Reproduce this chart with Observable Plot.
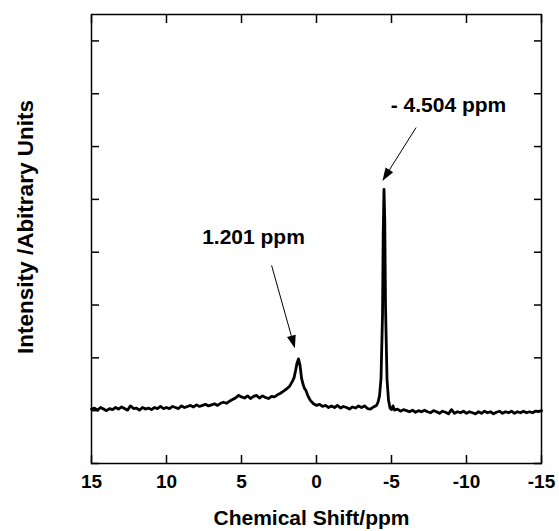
<!DOCTYPE html>
<html>
<head>
<meta charset="utf-8">
<script src="https://cdn.jsdelivr.net/npm/d3@7"></script>
<script src="https://cdn.jsdelivr.net/npm/@observablehq/plot@0.6"></script>
<style>
  body { margin: 0; background: #fff; }
  #chart { width: 559px; height: 531px; }
</style>
</head>
<body>
<div id="chart"></div>
<script>
// ---- data ----
const ppm = [
  15.0, 14.8, 14.6, 14.4, 14.2, 14.0, 13.8, 13.6, 13.4, 13.2, 13.0, 12.8, 12.6, 12.4, 12.2, 12.0,
  11.8, 11.6, 11.4, 11.2, 11.0, 10.8, 10.6, 10.4, 10.2, 10.0, 9.8, 9.6, 9.4, 9.2, 9.0, 8.8,
  8.6, 8.4, 8.2, 8.0, 7.8, 7.6, 7.4, 7.2, 7.0, 6.8, 6.6, 6.4, 6.2, 6.0, 5.8, 5.6,
  5.4, 5.2, 5.0, 4.8, 4.6, 4.4, 4.2, 4.0, 3.8, 3.6, 3.4, 3.2, 3.0, 2.8, 2.6, 2.4,
  2.2, 2.0, 1.8, 1.6, 1.5, 1.4, 1.3, 1.2, 1.1, 1.0, 0.9, 0.8, 0.7, 0.6, 0.5, 0.4,
  0.2, 0.0, -0.2, -0.4, -0.6, -0.8, -1.0, -1.2, -1.4, -1.6, -1.8, -2.0, -2.2, -2.4, -2.6, -2.8,
  -3.0, -3.2, -3.4, -3.6, -3.8, -4.0, -4.1, -4.2, -4.3, -4.4, -4.45, -4.5, -4.55, -4.6, -4.7, -4.8,
  -4.9, -5.0, -5.1, -5.2, -5.4, -5.6, -5.8, -6.0, -6.2, -6.4, -6.6, -6.8, -7.0, -7.2, -7.4, -7.6,
  -7.8, -8.0, -8.2, -8.4, -8.6, -8.8, -9.0, -9.2, -9.4, -9.6, -9.8, -10.0, -10.2, -10.4, -10.6, -10.8,
  -11.0, -11.2, -11.4, -11.6, -11.8, -12.0, -12.2, -12.4, -12.6, -12.8, -13.0, -13.2, -13.4, -13.6, -13.8, -14.0,
  -14.2, -14.4, -14.6, -14.8, -15.0
];
const intensity = [
  1.03, 1.05, 1.01, 1.06, 1.03, 1.00, 1.04, 1.02, 1.06, 1.03, 1.07, 1.04, 1.01, 1.09, 1.04, 1.05,
  1.01, 1.06, 1.03, 1.05, 1.02, 1.06, 1.04, 1.08, 1.04, 1.06, 1.04, 1.08, 1.06, 1.04, 1.09, 1.06,
  1.08, 1.10, 1.07, 1.11, 1.08, 1.10, 1.12, 1.09, 1.11, 1.13, 1.10, 1.14, 1.16, 1.14, 1.18, 1.21,
  1.24, 1.29, 1.26, 1.24, 1.28, 1.23, 1.27, 1.29, 1.24, 1.28, 1.25, 1.23, 1.27, 1.26, 1.30, 1.33,
  1.37, 1.41, 1.46, 1.56, 1.62, 1.75, 1.90, 1.98, 1.86, 1.62, 1.50, 1.42, 1.38, 1.30, 1.24, 1.19,
  1.13, 1.10, 1.12, 1.08, 1.10, 1.06, 1.09, 1.06, 1.10, 1.05, 1.08, 1.06, 1.03, 1.07, 1.05, 1.09,
  1.06, 1.09, 1.04, 1.03, 1.07, 1.10, 1.16, 1.28, 1.60, 2.80, 4.40, 5.19, 4.60, 3.00, 1.60, 1.20,
  1.05, 1.02, 1.09, 1.01, 1.03, 0.99, 1.02, 1.00, 0.98, 1.01, 0.97, 1.00, 0.98, 1.01, 0.98, 0.96,
  1.00, 0.98, 0.95, 0.99, 0.97, 0.94, 1.02, 0.95, 0.98, 0.96, 0.99, 0.95, 0.98, 0.96, 0.94, 0.98,
  0.95, 0.99, 0.96, 0.98, 0.94, 0.97, 0.99, 0.95, 0.98, 0.96, 0.99, 0.95, 0.98, 0.96, 0.99, 0.96,
  0.98, 0.96, 0.99, 0.98, 1.00
];
const xTicks = [15, 10, 5, 0, -5, -10, -15];
const yTicks = [0, 1, 2, 3, 4, 5, 6, 7, 8];

const annotLabels = ["1.201 ppm", "- 4.504 ppm"];
const annotX = [4.2, -8.8];
const annotY = [4.28, 6.79];
const arrowX1 = [2.96, -6.67];
const arrowY1 = [3.74, 6.35];
const arrowX2 = [1.41, -4.43];
const arrowY2 = [2.17, 5.34];

const xTitle = "Chemical Shift/ppm";
const yTitle = "Intensity /Abitrary Units";

// ---- build tables ----
const spectrum = ppm.map((p, i) => ({ppm: p, v: intensity[i]}));
const annots = annotLabels.map((t, i) => ({t, x: annotX[i], y: annotY[i]}));
const arrows = arrowX1.map((x1, i) => ({x1, y1: arrowY1[i], x2: arrowX2[i], y2: arrowY2[i]}));

const FONT = "'Liberation Sans', Arial, Helvetica, sans-serif";

// custom arrow mark with filled triangular head, positioned via Plot scales
function filledArrows(data) {
  return (index, scales) => {
    const ns = "http://www.w3.org/2000/svg";
    const g = document.createElementNS(ns, "g");
    const headLen = 13, headHalf = 4.5;
    for (const a of data) {
      const x1 = scales.x(a.x1), y1 = scales.y(a.y1);
      const x2 = scales.x(a.x2), y2 = scales.y(a.y2);
      const dx = x2 - x1, dy = y2 - y1, L = Math.hypot(dx, dy);
      const ux = dx / L, uy = dy / L;
      const bx = x2 - ux * headLen, by = y2 - uy * headLen;
      const line = document.createElementNS(ns, "line");
      line.setAttribute("x1", x1); line.setAttribute("y1", y1);
      line.setAttribute("x2", bx); line.setAttribute("y2", by);
      line.setAttribute("stroke", "black"); line.setAttribute("stroke-width", "1");
      g.appendChild(line);
      const poly = document.createElementNS(ns, "polygon");
      const px = -uy, py = ux;
      poly.setAttribute("points",
        `${x2},${y2} ${bx + px * headHalf},${by + py * headHalf} ${bx - px * headHalf},${by - py * headHalf}`);
      poly.setAttribute("fill", "black");
      g.appendChild(poly);
    }
    return g;
  };
}

const chart = Plot.plot({
  width: 559,
  height: 531,
  marginLeft: 91,
  marginRight: 18,
  marginTop: 14,
  marginBottom: 68,
  style: {fontFamily: FONT, background: "white", color: "black"},
  x: {domain: [15, -15]},
  y: {domain: [0, 8.5]},
  marks: [
    Plot.axisX({anchor: "bottom", ticks: xTicks, tickSize: 0, tickPadding: 11, label: null,
      fontSize: 19, fontWeight: "bold", tickFormat: d => String(d)}),
    Plot.axisX({anchor: "bottom", ticks: xTicks, tickSize: -8, strokeWidth: 1.5, fill: "none", label: null}),
    Plot.axisX({anchor: "top", ticks: xTicks, tickSize: -8, strokeWidth: 1.5, fill: "none", label: null}),
    Plot.axisY({anchor: "left", ticks: yTicks, tickSize: -8, strokeWidth: 1.5, fill: "none", label: null}),
    Plot.axisY({anchor: "right", ticks: yTicks, tickSize: -8, strokeWidth: 1.5, fill: "none", label: null}),
    Plot.frame({stroke: "black", strokeWidth: 1.5}),
    Plot.line(spectrum, {x: "ppm", y: "v", stroke: "black", strokeWidth: 2.8, strokeLinejoin: "round"}),
    Plot.text(annots, {x: "x", y: "y", text: "t", fontSize: 21, fontWeight: "bold", fill: "black"}),
    filledArrows(arrows),
    Plot.text([xTitle], {frameAnchor: "bottom", lineAnchor: "middle", dx: -5, dy: 55,
      fontSize: 21, fontWeight: "bold", fill: "black"}),
    Plot.text([yTitle], {frameAnchor: "left", textAnchor: "middle", lineAnchor: "middle", rotate: -90,
      dx: -66, dy: -12, fontSize: 22.5, fontWeight: "bold", fill: "black"})
  ]
});
document.getElementById("chart").appendChild(chart);
</script>
</body>
</html>
